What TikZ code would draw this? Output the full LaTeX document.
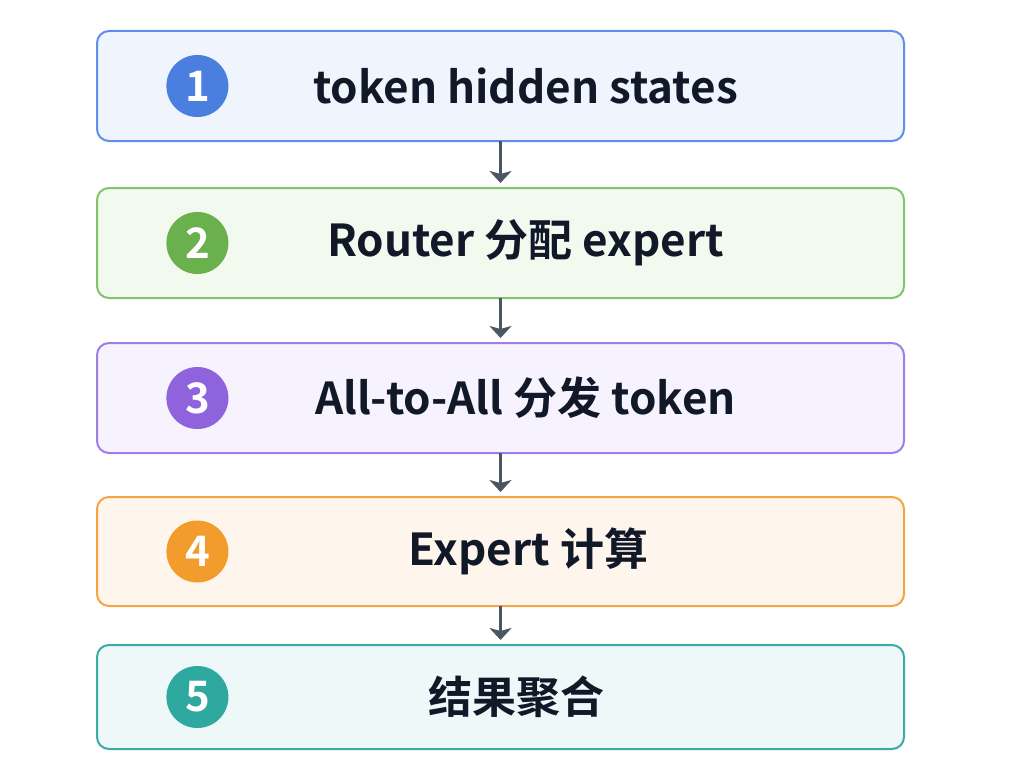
\documentclass[tikz,border=0pt]{standalone}
\usepackage{fontspec}
\setmainfont{Noto Sans CJK SC}[BoldFont={Noto Sans CJK SC Bold}]
\usepackage{tikz}
\usetikzlibrary{arrows.meta,positioning}
\definecolor{inkdark}{RGB}{17,24,39}
\definecolor{arrgray}{RGB}{75,85,99}
\definecolor{blueline}{RGB}{96,142,235}
\definecolor{bluefill}{RGB}{239,244,253}
\definecolor{bluedot}{RGB}{74,127,224}
\definecolor{greenline}{RGB}{128,196,108}
\definecolor{greenfill}{RGB}{242,249,239}
\definecolor{greendot}{RGB}{106,176,76}
\definecolor{purpleline}{RGB}{156,128,230}
\definecolor{purplefill}{RGB}{246,242,254}
\definecolor{purpledot}{RGB}{142,99,220}
\definecolor{orangeline}{RGB}{245,164,69}
\definecolor{orangefill}{RGB}{254,246,236}
\definecolor{orangedot}{RGB}{243,156,46}
\definecolor{tealline}{RGB}{58,171,165}
\definecolor{tealfill}{RGB}{238,248,249}
\definecolor{tealdot}{RGB}{47,168,160}

\begin{document}
\begin{tikzpicture}[
        node distance=22.5pt,
        stage/.style={draw=#1line, fill=#1fill, line width=1pt, outer sep=0pt, rounded corners=6pt, minimum width=403.5pt, minimum height=55pt},
        dot/.style={circle, fill=#1dot, text=white, minimum size=31pt, inner sep=0pt, font=\fontsize{21}{21}\selectfont\bfseries},
        lbl/.style={text=inkdark, font=\fontsize{22}{26}\selectfont\bfseries},
        arr/.style={-{Stealth[length=6pt, width=11pt, inset=1.5pt]}, line width=1.5pt, draw=arrgray, shorten >=2.5pt}
      ]
        \useasboundingbox (0,0) rectangle (505.5pt,-382.5pt);
        \node[stage=blue] (s1) at (250.25pt,-43pt) {};
        \node[stage=green, below=23.5pt of s1] (s2) {};
        \node[stage=purple, below=22.5pt of s2] (s3) {};
        \node[stage=orange, below=22pt of s3, minimum height=54.5pt] (s4) {};
        \node[stage=teal, below=19.5pt of s4, minimum height=52pt] (s5) {};
        \node[dot=blue, right=34.5pt of s1.west] (d1) {1};
        \node[dot=green, right=34.5pt of s2.west] (d2) {2};
        \node[dot=purple, right=34.5pt of s3.west] (d3) {3};
        \node[dot=orange, right=34.5pt of s4.west] (d4) {4};
        \node[dot=teal, right=34.5pt of s5.west] (d5) {5};
        \node[lbl, xshift=12.5pt] (t1) at (s1) {token hidden states};
        \node[lbl, xshift=12.5pt] (t2) at (s2) {Router 分配 expert};
        \node[lbl, xshift=12.5pt] (t3) at (s3) {All-to-All 分发 token};
        \node[lbl, xshift=14pt] (t4) at (s4) {Expert 计算};
        \node[lbl, xshift=8pt] (t5) at (s5) {结果聚合};
        \draw[arr] (s1) -- (s2);
        \draw[arr] (s2) -- (s3);
        \draw[arr] (s3) -- (s4);
        \draw[arr] (s4) -- (s5);
      \end{tikzpicture}
\end{document}
